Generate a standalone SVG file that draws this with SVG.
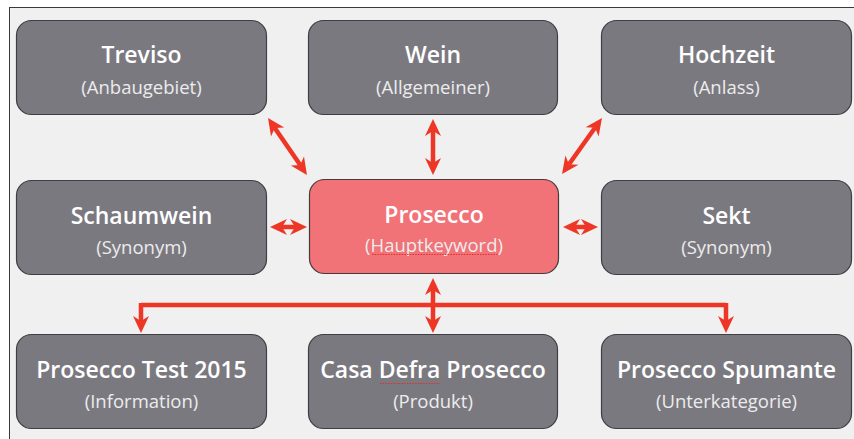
<svg xmlns="http://www.w3.org/2000/svg" width="854" height="439" viewBox="0 0 854 439">
<defs>
<style>
.box{fill:#7b7980;stroke:#3f3e44;stroke-width:1.2}
.main{fill:#f17277;stroke:#4a3a3c;stroke-width:1.2}
.t{font-family:"Open Sans","Noto Sans","Liberation Sans",sans-serif;font-size:23px;font-weight:600;fill:#ffffff;text-anchor:middle}
.s{font-family:"Open Sans","Noto Sans","Liberation Sans",sans-serif;font-size:18.5px;font-weight:400;fill:#ececec;text-anchor:middle}
.c{fill:none;stroke:#ee3626;stroke-width:4.5}
.sq{stroke:#e0302a;stroke-width:1.2;stroke-dasharray:1.5 1.2;fill:none}
</style>
<marker id="ah" viewBox="-6 -9 19 18" refX="0" refY="0" markerWidth="19" markerHeight="18" markerUnits="userSpaceOnUse" orient="auto-start-reverse">
<path d="M12,0 L-5,-8 L0,0 L-5,8 Z" fill="#ee3626"/>
</marker>
</defs>
<rect x="0" y="0" width="854" height="439" fill="#ffffff"/>
<rect x="9.5" y="7.5" width="860" height="450" fill="#eff0ef" stroke="#3a3a3a" stroke-width="1"/>
<g id="connectors">
<line class="c" x1="274.8" y1="127.9" x2="300.2" y2="165.1" marker-start="url(#ah)" marker-end="url(#ah)"/>
<line class="c" x1="433" y1="131" x2="433" y2="163" marker-start="url(#ah)" marker-end="url(#ah)"/>
<line class="c" x1="595" y1="127.8" x2="569" y2="164.2" marker-start="url(#ah)" marker-end="url(#ah)"/>
<line class="c" x1="282" y1="227" x2="295" y2="227" marker-start="url(#ah)" marker-end="url(#ah)"/>
<line class="c" x1="575" y1="227" x2="586" y2="227" marker-start="url(#ah)" marker-end="url(#ah)"/>
<line class="c" x1="433" y1="290" x2="433" y2="321" marker-start="url(#ah)" marker-end="url(#ah)"/>
<path class="c" d="M141,305 L726,305"/>
<path class="c" d="M141,303 L141,321" marker-end="url(#ah)"/>
<path class="c" d="M726,303 L726,321" marker-end="url(#ah)"/>
</g>
<g id="treviso">
<rect class="box" x="16.5" y="20.5" width="250" height="94" rx="15"/>
<text class="t" x="141.5" y="63">Treviso</text>
<text class="s" x="141.5" y="94">(Anbaugebiet)</text>
</g>
<g id="wein">
<rect class="box" x="308.5" y="20.5" width="249" height="94" rx="15"/>
<text class="t" x="433" y="63">Wein</text>
<text class="s" x="433" y="94">(Allgemeiner)</text>
</g>
<g id="hochzeit">
<rect class="box" x="601.5" y="20.5" width="250" height="94" rx="15"/>
<text class="t" x="726.5" y="63">Hochzeit</text>
<text class="s" x="726.5" y="94">(Anlass)</text>
</g>
<g id="schaumwein">
<rect class="box" x="16.5" y="180.5" width="250" height="94" rx="15"/>
<text class="t" x="141.5" y="224">Schaumwein</text>
<text class="s" x="141.5" y="254">(Synonym)</text>
</g>
<g id="prosecco">
<rect class="main" x="309.5" y="179.5" width="249" height="94" rx="15"/>
<text class="t" x="434" y="223">Prosecco</text>
<text class="s" x="434" y="252">(Hauptkeyword)</text>
<line class="sq" x1="372" y1="254.5" x2="498" y2="254.5"/>
</g>
<g id="sekt">
<rect class="box" x="601.5" y="180.5" width="250" height="94" rx="15"/>
<text class="t" x="726.5" y="224">Sekt</text>
<text class="s" x="726.5" y="254">(Synonym)</text>
</g>
<g id="prosecco-test-2015">
<rect class="box" x="16.5" y="334.5" width="250" height="94" rx="15"/>
<text class="t" x="141.5" y="378">Prosecco Test 2015</text>
<text class="s" x="141.5" y="408">(Information)</text>
</g>
<g id="casa-defra-prosecco">
<rect class="box" x="308.5" y="334.5" width="249" height="94" rx="15"/>
<text class="t" x="433" y="378">Casa Defra Prosecco</text>
<text class="s" x="433" y="408">(Produkt)</text>
<line class="sq" x1="380" y1="383.5" x2="440" y2="383.5"/>
</g>
<g id="prosecco-spumante">
<rect class="box" x="601.5" y="334.5" width="250" height="94" rx="15"/>
<text class="t" x="726.5" y="378">Prosecco Spumante</text>
<text class="s" x="726.5" y="408">(Unterkategorie)</text>
</g>
</svg>
